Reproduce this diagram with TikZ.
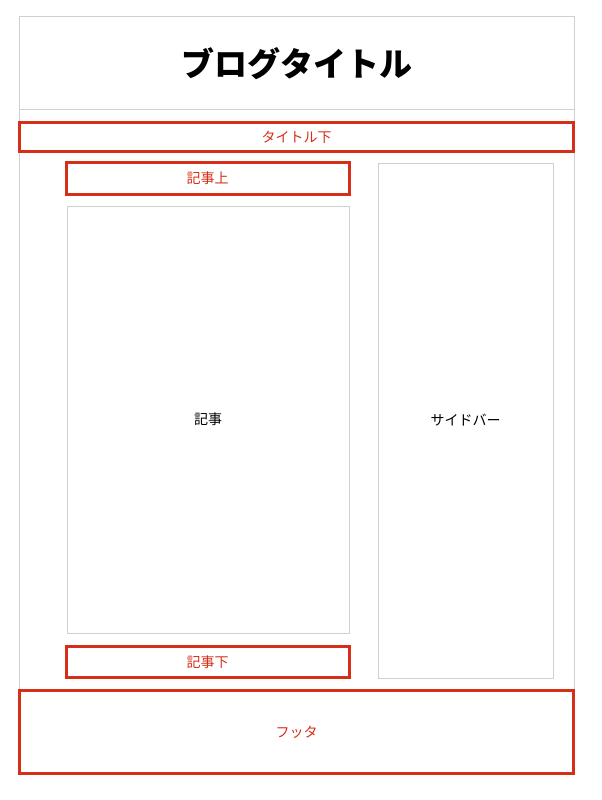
\documentclass[tikz,border=0pt]{standalone}
\usepackage{fontspec}
\setmainfont{Noto Sans CJK JP}
\usepackage{tikz}
\usetikzlibrary{positioning}

\definecolor{rot}{RGB}{214,46,24}
\definecolor{grau}{RGB}{208,208,208}

\begin{document}
\begin{tikzpicture}[x=1pt,y=-1pt,
	box/.style={draw=grau,line width=1pt,inner sep=0pt},
	ad/.style={draw=rot,line width=3pt,inner sep=0pt,text=rot,font=\fontsize{14}{16}\selectfont}]
	\useasboundingbox (0,0) rectangle (602,800);
	\node[box,minimum width=555pt,minimum height=673pt] (rahmen) at (296.5,353.5) {};
	\coordinate (l) at (19,109);
	\coordinate (r) at (574,109);
	\draw[grau,line width=1pt] (l) -- (r);
	\node[font=\fontsize{33}{36}\selectfont\bfseries] (blog) at (296.5,64) {ブログタイトル};

	\node[ad,minimum width=554pt,minimum height=29pt] (unter) at (296.5,137) {タイトル下};
	\node[ad,minimum width=283pt,minimum height=32pt] (oben) at (207.5,178.5) {記事上};
	\node[box,minimum width=282pt,minimum height=427pt,font=\fontsize{14}{16}\selectfont] (kiji) at (208,419.5) {記事};
	\node[ad,minimum width=283pt,minimum height=31pt] (unten) at (207.5,662) {記事下};
	\node[box,minimum width=175pt,minimum height=515pt,font=\fontsize{14}{16}\selectfont] (side) at (465.5,420.5) {サイドバー};
	\node[ad,fill=white,minimum width=554pt,minimum height=83pt] (fuss) at (296.5,732) {フッタ};
\end{tikzpicture}
\end{document}
